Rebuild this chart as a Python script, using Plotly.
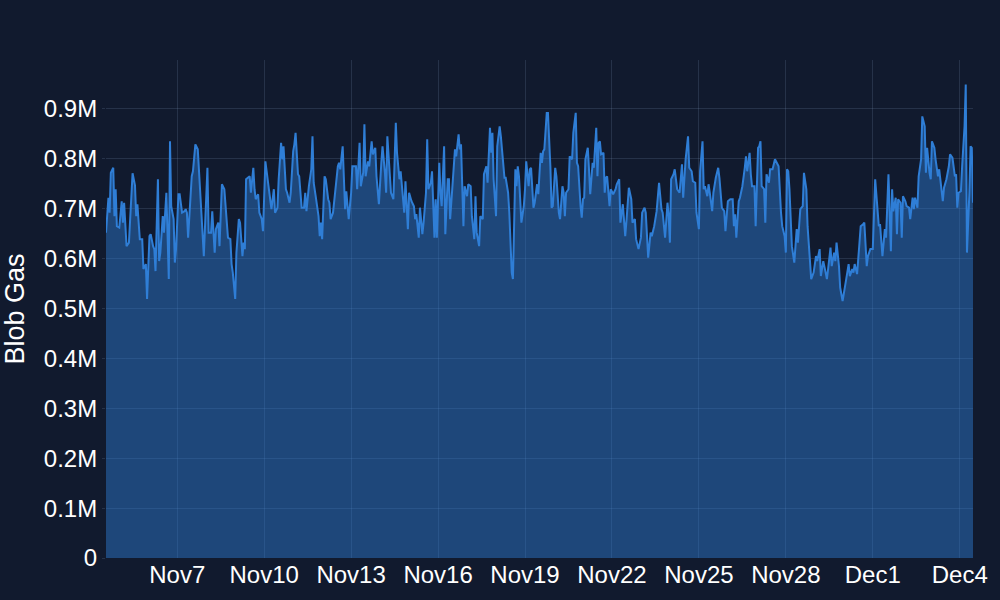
import pandas as pd
import plotly.graph_objects as go

# Hours since 2024-11-04 13:00 and blob gas values (millions)
hours = [
    0, 2, 3, 4, 6, 7, 8, 9, 11, 13, 14, 15, 17, 19, 20, 22, 24, 25, 26, 28, 30, 31, 33, 34, 36, 37, 39, 40, 41, 43,
    44, 45, 47, 48, 49, 50, 52, 53, 54, 56, 57, 58, 60, 61, 63, 65, 66, 67, 68, 70, 71, 72, 74, 76, 77,
    79, 81, 82, 84, 85, 87, 88, 90, 91, 93, 94, 96, 98, 99, 101, 103, 104, 105, 107, 108, 110, 111, 113, 114, 115,
    116, 118, 119, 120, 122, 123, 124, 126, 127, 129, 130, 132, 134, 135, 137, 139, 140, 142, 143, 145, 146, 147,
    149, 150, 152, 153, 155, 156,
    157, 159, 160, 162, 164, 165, 166, 168, 170, 171, 172, 174, 176, 177, 178, 179, 181, 182, 184, 185, 186, 188,
    190, 192, 193, 194, 196, 197, 198, 199, 201, 203, 204, 207, 208, 210, 211, 213, 214, 215, 217, 218, 220, 221,
    223, 224, 226, 228, 229, 231, 232, 233, 235, 236,
    238, 240, 241, 243, 244, 245, 247, 248, 250, 251, 253, 255, 256, 257, 259, 260, 262, 263, 265, 266, 267, 269,
    270, 272, 273, 274, 276, 277, 278, 280, 281, 283, 284, 285, 287, 289, 290, 292, 293, 294, 296, 297, 299, 300,
    302, 303, 305, 306, 307, 309, 310, 312, 313, 315,
    316, 318, 319, 320, 321, 323, 324, 326, 327, 329, 330, 331, 333, 334, 335, 336, 337, 339, 340, 341, 342, 344,
    346, 347, 348, 350, 351, 352, 354, 355, 357, 358, 360, 361, 362, 363, 365, 366, 368, 369, 370, 372, 373, 375,
    376, 378, 379, 380, 381, 383, 384, 386, 387, 389, 390, 391, 393, 394, 395,
    396, 397, 399, 400, 401, 403, 404, 406, 407, 408, 409, 410, 412, 413, 414, 415, 417, 418, 420, 422, 423, 425,
    426, 428, 430, 431, 433, 435, 436, 438, 439, 441, 443, 444, 446, 447, 449, 451, 452, 454, 456, 458, 460, 461,
    463, 465, 466, 467, 468, 470, 471, 473, 475,
    477, 478, 480, 482, 483, 485, 486, 488, 489, 491, 492, 494, 495, 496, 498, 499, 500, 502, 503, 505, 507, 508,
    510, 512, 513, 515, 517, 519, 520, 521, 522, 524, 525, 527, 529, 530, 531, 533, 534, 535, 537, 538, 540, 541,
    542, 543, 545, 546, 547, 549, 550, 552, 554,
    556, 557, 559, 560, 562, 563, 564, 565, 566, 567, 568, 570, 572, 573, 575, 577, 578, 580, 581, 583, 584, 586,
    588, 589, 591, 592, 594, 596, 597, 598, 600, 601, 603, 604, 605, 607, 608, 610, 612, 613, 615, 616, 618, 619,
    620, 622, 624, 625, 627, 628, 630, 631, 633,
    635, 637, 639, 640, 641, 643, 645, 646, 648, 650, 651, 652, 654, 655, 656, 658, 659, 660, 662, 663, 665, 666,
    668, 669, 670, 672, 673, 675, 676, 678, 679, 680, 682, 683, 684, 686, 687, 689, 690, 692, 693, 694, 696, 698,
    699, 701, 703, 704, 705, 706, 708, 709, 711, 712, 713, 715, 716, 717, 718,
]
blob_gas_m = [
    .652, .722, .692, .772, .782, .685, .739, .665, .662, .715, .672, .712, .625, .632, .679, .771, .747, .685, .709,
    .639, .639, .579, .589, .519, .645, .649, .625, .619, .575, .759,
    .595, .612, .685, .652, .692, .732, .559, .835, .705, .679, .592, .619, .729, .729, .692, .695, .699, .692, .642,
    .715, .765, .775, .829, .819, .782,
    .692, .605, .665, .782, .652, .652, .695, .612, .659, .672, .625, .749, .739, .705, .642, .639, .589, .572, .519,
    .612, .679, .672, .605, .632, .619,
    .759, .762, .765, .732, .782, .739, .719, .729, .692, .679, .655, .795, .759, .739, .699, .739, .692, .702, .759,
    .832, .799, .825,
    .739, .732, .712, .732, .815, .829,
    .852, .769, .765, .702, .702, .732, .695, .745, .779, .845, .752, .719, .685, .645, .672, .639, .765, .759, .719,
    .712, .679, .692,
    .739, .785, .792, .779, .825, .739, .699, .735, .679, .732, .785, .785, .739, .832, .745, .772, .869, .765, .795,
    .785, .835, .809,
    .822, .765, .709, .792, .825, .772, .732, .845, .779, .732,
    .719, .872, .812, .759, .775, .745, .692, .755, .659, .732, .715, .705, .679, .689, .642, .702, .649, .672, .732,
    .839, .739, .752,
    .775, .642, .719, .642, .792, .732, .705, .825, .649, .759, .759, .679, .752, .819, .805, .849, .819, .829, .665,
    .745, .725, .749,
    .745, .685, .639, .725, .652, .625, .685, .679, .769, .785,
    .752, .862, .812, .852, .759, .685, .825, .865, .845, .799, .762, .762, .732, .692, .612, .572, .559, .779, .745,
    .785, .765, .672,
    .705, .739, .795, .745, .779, .782, .702, .712, .749, .729, .812, .792, .815, .819, .892, .892, .785, .702, .705,
    .782, .765, .692,
    .679, .745, .732, .685, .732, .739, .805, .799, .852, .892, .792, .785, .705, .682, .719,
    .722, .799, .822, .779, .729, .792, .782, .862, .765, .832, .835, .809, .812, .732, .762, .765, .705, .739, .729,
    .739, .749, .759,
    .672, .709, .645, .675, .742, .719, .672, .679, .639, .619, .642, .692, .702, .692, .602, .652, .645, .665, .695,
    .752, .699, .692,
    .642, .712, .685, .632, .759, .769, .779, .739, .732,
    .789, .722, .799, .845, .782, .775, .755, .752, .692, .659, .775, .835, .739, .745, .725, .749, .732, .695, .732,
    .762, .782, .762,
    .702, .695, .655, .715, .719, .719, .665, .689, .642, .715, .722, .745, .782, .805, .775, .812, .769, .745, .745,
    .665, .822, .825,
    .835, .745, .739, .672, .769, .752, .779, .779, .799,
    .789, .785, .692, .665, .645, .612, .779, .775, .739, .679, .625, .592, .659, .632, .699, .705, .772, .739, .665,
    .595, .559, .572,
    .605, .595, .619, .565, .595, .572, .559, .579, .622, .585, .612, .595, .632, .585, .542, .515, .552, .559, .589,
    .565, .579, .572,
    .589, .569, .632, .665, .669, .672, .585, .605, .619,
    .619, .759, .705, .665, .669, .605, .659, .642, .769, .615, .739, .695, .722, .649, .719, .712, .642, .725, .715,
    .705, .702, .679,
    .722, .699, .722, .702, .765, .799, .885, .865, .772, .822, .772, .759, .835, .822, .799, .765, .779, .739, .715,
    .742, .759, .785,
    .809, .802, .765, .769, .702, .732, .735, .785, .865, .949, .612, .732, .825, .822, .712,
]

start_time = "2024-11-04 13:00"
x_tick_dates = ["2024-11-07", "2024-11-10", "2024-11-13", "2024-11-16", "2024-11-19",
                "2024-11-22", "2024-11-25", "2024-11-28", "2024-12-01", "2024-12-04"]
x_tick_labels = ["Nov7", "Nov10", "Nov13", "Nov16", "Nov19", "Nov22", "Nov25", "Nov28", "Dec1", "Dec4"]
y_tick_values = [0, 1e5, 2e5, 3e5, 4e5, 5e5, 6e5, 7e5, 8e5, 9e5]
y_tick_labels = ["0", "0.1M", "0.2M", "0.3M", "0.4M", "0.5M", "0.6M", "0.7M", "0.8M", "0.9M"]

n = min(len(hours), len(blob_gas_m))
times = pd.Timestamp(start_time) + pd.to_timedelta(hours[:n], unit="h")
values = [v * 1e6 for v in blob_gas_m[:n]]

BG = "#111a2e"
GRID = "rgba(140,160,200,0.18)"
FONT = "Liberation Sans, Arial, Helvetica, sans-serif"

fig = go.Figure(
    go.Scatter(
        x=times, y=values, mode="lines",
        line=dict(color="rgb(47,126,214)", width=2),
        fill="tozeroy", fillcolor="rgba(47,126,214,0.45)",
        hoverinfo="x+y",
    )
)
fig.update_layout(
    width=1000, height=600,
    paper_bgcolor=BG, plot_bgcolor=BG,
    margin=dict(l=106, r=26, t=60, b=40),
    font=dict(family=FONT, color="#ffffff", size=25),
    showlegend=False,
)
fig.update_xaxes(
    tickvals=x_tick_dates, ticktext=x_tick_labels,
    range=[times[0], times[-1]],
    showgrid=True, gridcolor=GRID, gridwidth=1,
    zeroline=False, showline=False, ticks="",
    tickfont=dict(family=FONT, size=24, color="#ffffff"),
)
fig.update_yaxes(
    title=dict(text="Blob Gas", font=dict(family=FONT, size=27, color="#ffffff"), standoff=12),
    tickvals=y_tick_values, ticktext=y_tick_labels,
    range=[0, 0.998e6],
    showgrid=True, gridcolor=GRID, gridwidth=1,
    zeroline=False, showline=False,
    ticks="outside", ticklen=3, tickcolor=GRID,
    tickfont=dict(family=FONT, size=24, color="#ffffff"),
)
fig.write_html(
    "out.html",
    config={"displayModeBar": False},
    post_script="document.body.style.margin='0';document.body.style.background='#111a2e';",
)
